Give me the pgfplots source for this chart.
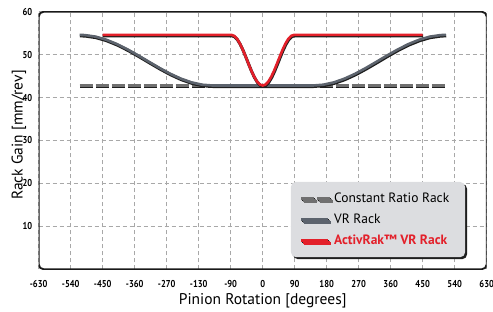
\documentclass[border=0pt]{standalone}
\usepackage{fontspec}
\setmainfont{PT Sans}
\newfontfamily\tickfam[FakeStretch=0.85]{PT Sans Bold}
\usepackage{pgfplots}
\pgfplotsset{compat=1.18}
\usetikzlibrary{shadows}
\definecolor{actred}{HTML}{E3202A}
\definecolor{vrgray}{HTML}{5C636D}
\definecolor{cgray}{HTML}{707070}
\definecolor{shad}{HTML}{1E1E1E}
\definecolor{legbg}{HTML}{DCDDE0}
\definecolor{gridc}{HTML}{A8A8A8}
\definecolor{framec}{HTML}{1A1A1A}
\newcommand{\ticks}{\tickfam\fontsize{10}{11}\selectfont}
\newcommand{\labelfont}{\fontsize{15.5}{17}\selectfont}
\newcommand{\legfont}{\fontsize{13.5}{15}\selectfont}
\pgfplotsset{
  shadleg/.style={legend image code/.code={
    \draw[shad, line width=3pt] (0.4pt,-0.9pt) -- (27.4pt,-0.9pt);
    \draw[##1] (0pt,0pt) -- (27pt,0pt);}},
  dashleg/.style={legend image code/.code={
    \draw[shad, line width=3pt, dash pattern=on 13pt off 3pt] (0.4pt,-0.9pt) -- (29.4pt,-0.9pt);
    \draw[##1] (0pt,0pt) -- (29pt,0pt);}},
}
\begin{document}
\begin{tikzpicture}
\path[use as bounding box] (-38.7pt,-42.7pt) rectangle (454.3pt,269.3pt);
\begin{axis}[
  at={(0,0)}, anchor=south west, scale only axis,
  width=448pt, height=257.6pt,
  xmin=-630, xmax=630, ymin=0, ymax=60,
  xtick={-630,-540,-450,-360,-270,-180,-90,0,90,180,270,360,450,540,630},
  xticklabels={-630,-540,-450,-360,-270,-130,-90,0,90,180,270,360,450,540,630},
  ytick={10,20,30,40,50,60},
  yticklabels={10,20,30,40,50,60},
  major tick length=0pt,
  grid=major,
  grid style={dash pattern=on 4pt off 3pt, line width=0.7pt, color=gridc},
  axis line style={draw=none},
  tick label style={font=\ticks},
  xticklabel style={anchor=base, yshift=-18pt},
  yticklabel style={anchor=east, xshift=-3pt},
  xlabel={Pinion Rotation [degrees]},
  ylabel={Rack Gain [mm/rev]},
  label style={font=\labelfont},
  xlabel style={at={(axis description cs:0.5,-0.1374)}, anchor=base},
  ylabel style={at={(axis description cs:-0.036,0.521)}, anchor=base},
  legend cell align=left,
  legend style={at={(axis description cs:0.5625,0.34)}, anchor=north west,
    fill=legbg, draw=none, rounded corners=5pt,
    drop shadow={shadow xshift=2pt, shadow yshift=-2pt, fill=shad, opacity=1},
    font=\legfont, inner xsep=9pt, inner ysep=9pt, row sep=6pt,
    nodes={inner sep=2pt}},
]
% Constant ratio rack
\addplot[shad, line width=3pt, dash pattern=on 13pt off 3pt, xshift=0.4pt, yshift=-0.9pt, forget plot]
  coordinates {(-515,42.8) (515,42.8)};
\addplot[cgray, line width=2.4pt, dash pattern=on 13pt off 3pt, dashleg]
  coordinates {(-515,42.8) (515,42.8)};
\addlegendentry{\makebox[120pt][l]{Constant Ratio Rack}}
% VR rack
\addplot[shad, line width=3.2pt, line join=round, xshift=0.4pt, yshift=-0.9pt, forget plot]
  coordinates {(-515,54.6) (-500,54.55) (-470,54.19) (-440,53.47) (-410,52.46) (-380,51.21) (-350,49.81) (-320,48.33) (-290,46.88) (-260,45.54) (-230,44.40) (-200,43.53) (-170,42.99) (-140,42.8)
  (140,42.8) (170,42.99) (200,43.53) (230,44.40) (260,45.54) (290,46.88) (320,48.33) (350,49.81) (380,51.21) (410,52.46) (440,53.47) (470,54.19) (500,54.55) (515,54.6)};
\addplot[vrgray, line width=2.6pt, line join=round, shadleg]
  coordinates {(-515,54.6) (-500,54.55) (-470,54.19) (-440,53.47) (-410,52.46) (-380,51.21) (-350,49.81) (-320,48.33) (-290,46.88) (-260,45.54) (-230,44.40) (-200,43.53) (-170,42.99) (-140,42.8)
  (140,42.8) (170,42.99) (200,43.53) (230,44.40) (260,45.54) (290,46.88) (320,48.33) (350,49.81) (380,51.21) (410,52.46) (440,53.47) (470,54.19) (500,54.55) (515,54.6)};
\addlegendentry{\makebox[120pt][l]{VR Rack}}
% ActivRak VR rack
\addplot[shad, line width=3pt, line join=round, xshift=0.4pt, yshift=-0.9pt, forget plot]
  coordinates {(-450,54.6) (-88,54.6) (-80,54.36) (-72,53.66) (-64,52.56) (-56,51.15) (-48,49.54) (-40,47.86) (-32,46.25) (-24,44.84) (-16,43.74) (-8,43.04) (0,42.8)
  (8,43.04) (16,43.74) (24,44.84) (32,46.25) (40,47.86) (48,49.54) (56,51.15) (64,52.56) (72,53.66) (80,54.36) (88,54.6) (450,54.6)};
\addplot[actred, line width=2.6pt, line join=round, shadleg]
  coordinates {(-450,54.6) (-88,54.6) (-80,54.36) (-72,53.66) (-64,52.56) (-56,51.15) (-48,49.54) (-40,47.86) (-32,46.25) (-24,44.84) (-16,43.74) (-8,43.04) (0,42.8)
  (8,43.04) (16,43.74) (24,44.84) (32,46.25) (40,47.86) (48,49.54) (56,51.15) (64,52.56) (72,53.66) (80,54.36) (88,54.6) (450,54.6)};
\addlegendentry{\makebox[120pt][l]{\textcolor{actred}{\bfseries ActivRak™ VR Rack}}}
\draw[framec, line width=1.8pt, rounded corners=5pt] (rel axis cs:0,0) rectangle (rel axis cs:1,1);
\end{axis}
\end{tikzpicture}
\end{document}
